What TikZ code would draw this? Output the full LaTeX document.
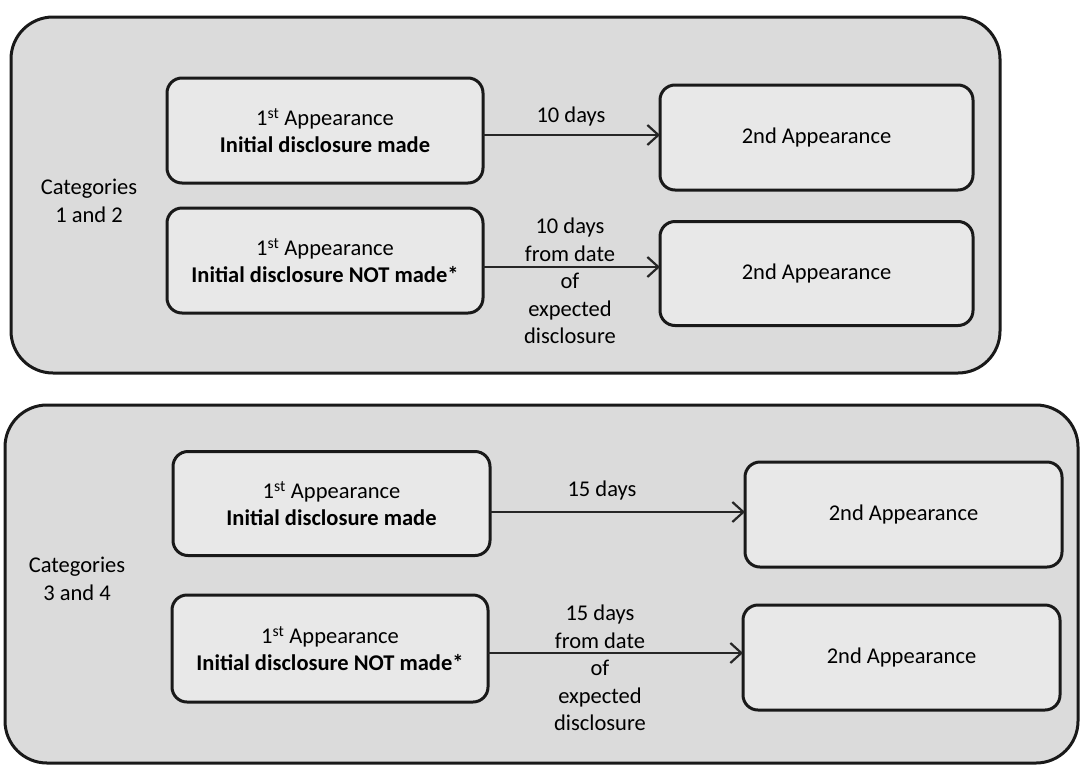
\documentclass[tikz,border=0pt]{standalone}
\usepackage{fontspec}
\setmainfont{Carlito}
\usetikzlibrary{arrows.meta}
\begin{document}
\begin{tikzpicture}[x=1pt,y=-1pt,
  every node/.style={inner sep=0pt, outer sep=0pt},
  grp/.style={draw=black!90, line width=3pt, rounded corners=42pt, fill=black!14},
  stage/.style={draw=black!90, line width=3pt, rounded corners=15pt, fill=black!9,
    align=center, font=\fontsize{22.5}{27}\selectfont},
  lbl/.style={align=center, font=\fontsize{22.5}{27.5}\selectfont},
  arr/.style={draw=black!85, line width=2.4pt,
    -{Straight Barb[length=11pt,width=20pt,line width=2.2pt]}}]
\useasboundingbox (0,0) rectangle (1081,769);

% group frames
\node[grp, minimum width=989pt, minimum height=356pt] (grp1) at (505.5,195) {};
\node[grp, minimum width=1073pt, minimum height=358pt] (grp2) at (541.5,584) {};

% categories 1 and 2
\node[lbl] (cat1) at (89,201) {Categories\\1 and 2};
\node[stage, minimum width=316pt, minimum height=105pt] (A) at (325,130.5)
  {1\textsuperscript{st} Appearance\\\textbf{Initial disclosure made}};
\node[stage, minimum width=316pt, minimum height=105pt] (B) at (325,260.5)
  {1\textsuperscript{st} Appearance\\\textbf{Initial disclosure NOT made*}};
\node[stage, minimum width=313pt, minimum height=105pt] (C) at (816.5,137.5) {2nd Appearance};
\node[stage, minimum width=313pt, minimum height=104pt] (D) at (816.5,273.5) {2nd Appearance};

\draw[arr] ([yshift=-4.5pt]A.east) -- ([yshift=-4.5pt]A.east -| C.west);
\draw[arr] ([yshift=-6.5pt]B.east) -- ([yshift=-6.5pt]B.east -| D.west);
\node[lbl] (l1) at (571,116) {10 days};
\node[lbl] (l2) at (570,281) {10 days\\from date\\of\\expected\\disclosure};

% categories 3 and 4
\node[lbl] (cat2) at (77,579) {Categories\\3 and 4};
\node[stage, minimum width=317pt, minimum height=104pt] (E) at (331.5,503.5)
  {1\textsuperscript{st} Appearance\\\textbf{Initial disclosure made}};
\node[stage, minimum width=316pt, minimum height=107pt] (F) at (330,648.5)
  {1\textsuperscript{st} Appearance\\\textbf{Initial disclosure NOT made*}};
\node[stage, minimum width=317pt, minimum height=105pt] (G) at (903.5,514.5) {2nd Appearance};
\node[stage, minimum width=317pt, minimum height=105pt] (H) at (901.5,657.5) {2nd Appearance};

\draw[arr] ([yshift=-8.5pt]E.east) -- ([yshift=-8.5pt]E.east -| G.west);
\draw[arr] ([yshift=-4.5pt]F.east) -- ([yshift=-4.5pt]F.east -| H.west);
\node[lbl] (l3) at (602,490) {15 days};
\node[lbl] (l4) at (600,668) {15 days\\from date\\of\\expected\\disclosure};
\end{tikzpicture}
\end{document}
